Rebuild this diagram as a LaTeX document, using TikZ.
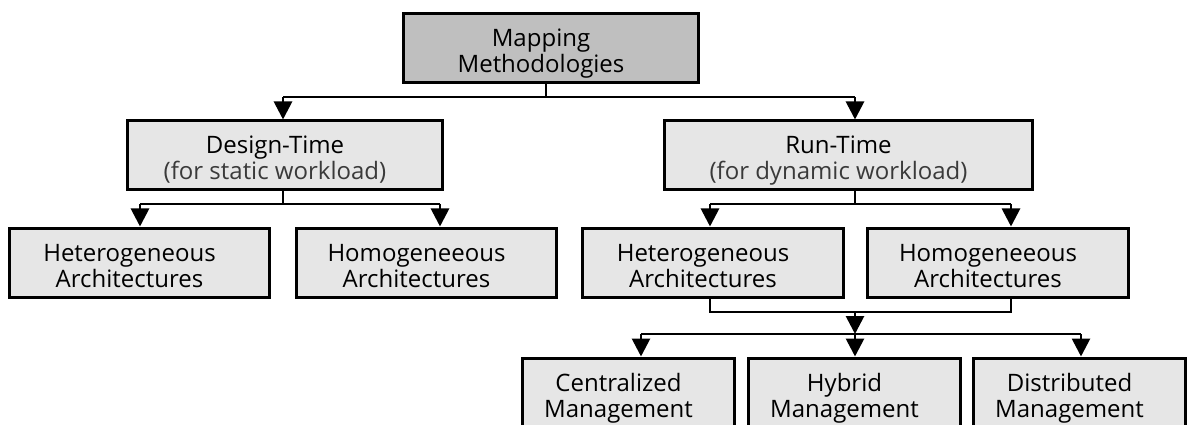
\documentclass[tikz,border=0pt]{standalone}
\usepackage{fontspec}
\setmainfont{Open Sans}
\usetikzlibrary{arrows.meta}

\definecolor{boxgray}{HTML}{E6E6E6}
\definecolor{rootgray}{HTML}{BFBFBF}
\definecolor{subtext}{HTML}{3A3A3A}

% invisible struts that fix the first baseline and the last depth of a box label
\newcommand{\hiline}{\rule{0pt}{31pt}}
\newcommand{\loline}{\rule[-8pt]{0pt}{8pt}}
% trailing padding that sets each label slightly left of the box centre
\newcommand{\rpad}{\rule{19pt}{0pt}}
\newcommand{\twolines}[2]{\hiline #1\rpad\\#2\rpad\loline}

\tikzset{
  blk/.style={draw=black, line width=3pt, fill=boxgray, inner sep=0pt,
    align=center, minimum height=69pt, font=\fontsize{24}{26}\selectfont},
  rootblk/.style={blk, fill=rootgray},
  link/.style={line width=2.8pt},
  arr/.style={link, -{Triangle[length=18pt,width=18pt]}},
}

\begin{document}
\begin{tikzpicture}[x=1pt,y=-1pt]
\useasboundingbox (0,0) rectangle (1187,425);

% level 0
\node[rootblk, minimum width=295pt] (map) at (550.5,48.5)
  {\twolines{Mapping}{Methodologies}};

% level 1
\node[blk, minimum width=315pt] (dt) at (284.5,155.5)
  {\twolines{Design-Time}{\color{subtext}(for static workload)}};
\node[blk, minimum width=368pt] (rt) at (848,155.5)
  {\twolines{Run-Time}{\color{subtext}(for dynamic workload)}};

% level 2
\node[blk, minimum width=260pt] (dhet) at (139,262.5)
  {\twolines{Heterogeneous}{Architectures}};
\node[blk, minimum width=260pt] (dhom) at (426,262.5)
  {\twolines{Homogeneeous}{Architectures}};
\node[blk, minimum width=261pt] (rhet) at (712.5,262.5)
  {\twolines{Heterogeneous}{Architectures}};
\node[blk, minimum width=261pt] (rhom) at (997.5,262.5)
  {\twolines{Homogeneeous}{Architectures}};

% level 3
\node[blk, minimum width=212pt] (cen) at (628,392.5)
  {\twolines{Centralized}{Management}};
\node[blk, minimum width=212pt] (hyb) at (854,392.5)
  {\twolines{Hybrid}{Management}};
\node[blk, minimum width=212pt] (dis) at (1079,392.5)
  {\twolines{Distributed}{Management}};

% junction points of the connectors
\coordinate (j0)  at (546,97);
\coordinate (j0l) at (283,97);
\coordinate (j0r) at (855,97);
\coordinate (j1)  at (283,204);
\coordinate (j1l) at (140,204);
\coordinate (j1r) at (440,204);
\coordinate (j2)  at (855,204);
\coordinate (j2l) at (710,204);
\coordinate (j2r) at (1011,204);
\coordinate (j3l) at (710,312);
\coordinate (j3r) at (1011,312);
\coordinate (j3)  at (855,312);
\coordinate (j4)  at (855,334);
\coordinate (j4l) at (641,334);
\coordinate (j4r) at (1081,334);

% root to level 1
\draw[link] (map.south -| j0) -- (j0);
\draw[link] (j0l) -- (j0r);
\draw[arr] (j0l) -- (j0l |- dt.north);
\draw[arr] (j0r) -- (j0r |- rt.north);

% design-time branch
\draw[link] (dt.south -| j1) -- (j1);
\draw[link] (j1l) -- (j1r);
\draw[arr] (j1l) -- (j1l |- dhet.north);
\draw[arr] (j1r) -- (j1r |- dhom.north);

% run-time branch
\draw[link] (rt.south -| j2) -- (j2);
\draw[link] (j2l) -- (j2r);
\draw[arr] (j2l) -- (j2l |- rhet.north);
\draw[arr] (j2r) -- (j2r |- rhom.north);

% run-time architectures merge into the management styles
\draw[link] (rhet.south -| j3l) -- (j3l) -- (j3r) -- (rhom.south -| j3r);
\draw[arr] (j3) -- (j4);
\draw[link] (j4l) -- (j4r);
\draw[arr] (j4l) -- (j4l |- cen.north);
\draw[arr] (j4) -- (j4 |- hyb.north);
\draw[arr] (j4r) -- (j4r |- dis.north);
\end{tikzpicture}
\end{document}
